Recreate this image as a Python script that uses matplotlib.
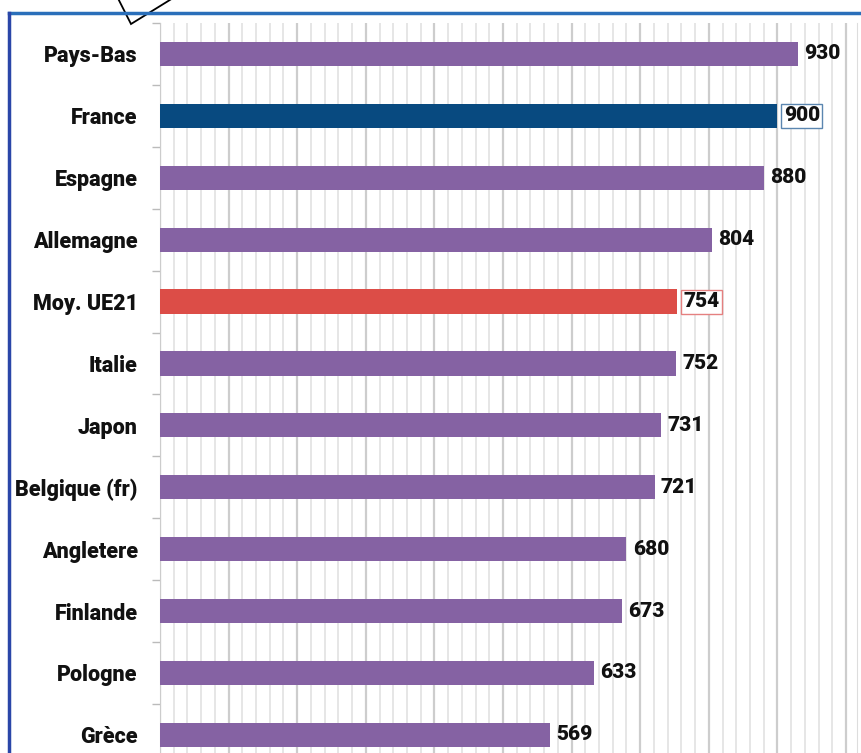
import numpy as np
import matplotlib
matplotlib.use("Agg")
import matplotlib.pyplot as plt
from matplotlib.lines import Line2D
from matplotlib.patches import Polygon
from matplotlib.ticker import MultipleLocator

pays = ["Pays-Bas", "France", "Espagne", "Allemagne", "Moy. UE21", "Italie",
        "Japon", "Belgique (fr)", "Angletere", "Finlande", "Pologne", "Grèce"]
valeurs = [930, 900, 880, 804, 754, 752, 731, 721, 680, 673, 633, 569]

violet = "#8562a3"
couleurs = [violet] * len(pays)
couleurs[1] = "#084a80"
couleurs[4] = "#dc4d47"
cadres = {1: "#5b86b0", 4: "#e58080"}

W, H = 862, 753
plt.rcParams['font.family'] = ['Roboto', 'DejaVu Sans']
fig = plt.figure(figsize=(W / 100, H / 100), dpi=100)

# axes cropped at the bottom like the original picture
left, top = 160, 23
step = 61.9
ax = fig.add_axes([left / W, 1 - (top + 12 * step) / H, (857 - left) / W, 12 * step / H])

y = np.arange(len(pays))
ax.barh(y, valeurs, height=0.39, color=couleurs, zorder=3)
ax.set_ylim(len(pays) - 0.5, -0.5)
ax.set_xlim(0, 1016)

ax.xaxis.set_major_locator(MultipleLocator(100))
ax.xaxis.set_minor_locator(MultipleLocator(20))
ax.grid(axis="x", which="minor", color="#e4e4e4", lw=1.3)
ax.grid(axis="x", which="major", color="#cdcdcd", lw=1.6)
ax.set_axisbelow(True)
ax.tick_params(axis="x", which="both", length=0, labelbottom=False)

ax.set_yticks(y)
ax.set_yticklabels(pays, fontsize=15.5, fontweight=900, color="#111111")
ax.set_yticks(np.arange(len(pays) + 1) - 0.5, minor=True)
ax.tick_params(axis="y", which="major", length=0, pad=16)
ax.tick_params(axis="y", which="minor", length=6, color="#bbbbbb", width=1)

for s in ["top", "bottom"]:
    ax.spines[s].set_visible(False)
ax.spines["left"].set_color("#cccccc")
ax.spines["right"].set_color("#dddddd")

for i, v in enumerate(valeurs):
    box = None
    if i in cadres:
        box = dict(boxstyle="square,pad=0.12", fc="white", ec=cadres[i], lw=1)
    ax.annotate(str(v), (v, i), xytext=(4.5, 0), textcoords="offset points",
                va="center", ha="left", fontsize=15, fontweight=900,
                color="#111111", bbox=box, zorder=4)

# blue frame around the graphic
fig.add_artist(Line2D([9 / W, 1], [1 - 12.5 / H, 1 - 12.5 / H], color="#2a6fba", lw=2.5))
fig.add_artist(Line2D([9 / W, 9 / W], [0, 1 - 12.5 / H], color="#2a46a8", lw=2.5))
fig.add_artist(Polygon([(115 / W, 1.01), (131 / W, 1 - 24 / H), (182 / W, 1.01)],
                       closed=True, fc="white", ec="black", lw=1.3,
                       transform=fig.transFigure))

fig.savefig("out.png", dpi=100)
